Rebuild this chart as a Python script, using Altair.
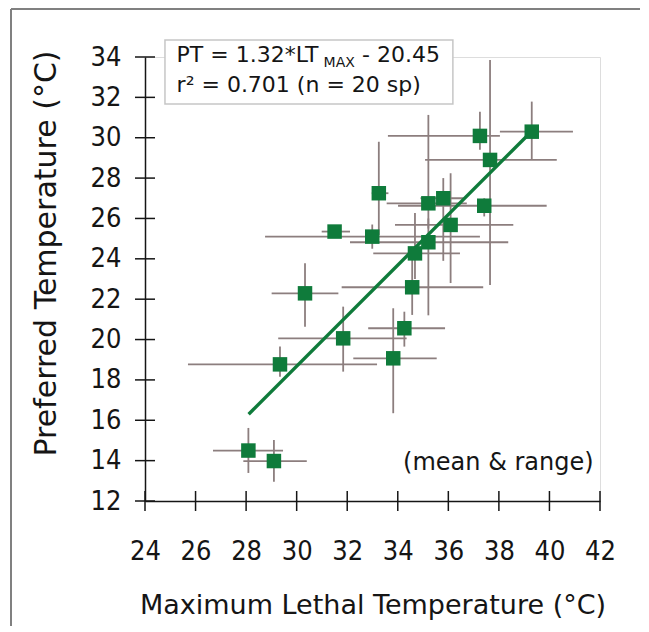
import altair as alt
import pandas as pd

# ---- data ----
lt_max = [28.09, 29.10, 29.34, 31.84, 30.33, 31.50, 32.99, 33.82, 34.26, 34.57,
          34.68, 35.21, 36.09, 35.21, 35.80, 37.42, 37.25, 37.65, 39.30, 33.25]
pt = [14.50, 13.98, 18.77, 20.06, 22.29, 25.35, 25.10, 19.07, 20.56, 22.59,
      24.27, 24.82, 25.68, 26.75, 27.00, 26.63, 30.09, 28.90, 30.30, 27.25]
lt_lo = [26.69, 27.89, 25.70, 29.27, 29.01, 30.99, 28.75, 32.24, 32.83, 31.78,
         33.03, 32.11, 33.89, 33.56, 34.90, 34.01, 33.61, 35.08, 38.04, 32.97]
lt_hi = [29.46, 30.40, 33.18, 34.35, 31.65, 32.11, 37.25, 35.54, 35.87, 37.38,
         36.46, 38.37, 38.57, 36.73, 36.60, 39.89, 38.04, 40.29, 40.93, 33.63]
pt_lo = [13.39, 12.96, 18.16, 18.41, 20.64, 25.10, 24.50, 16.35, 19.65, 21.22,
         23.00, 21.20, 22.80, 25.50, 23.90, 26.10, 29.40, 22.70, 28.90, 25.18]
pt_hi = [15.62, 15.02, 19.65, 21.63, 23.78, 25.60, 25.70, 21.55, 21.38, 24.11,
         26.27, 26.00, 28.24, 31.13, 28.00, 27.00, 31.29, 33.85, 31.79, 29.80]

fit_x = [28.1, 39.2]
fit_y = [16.3, 30.2]

x_ticks = [24, 26, 28, 30, 32, 34, 36, 38, 40, 42]
y_ticks = [12, 14, 16, 18, 20, 22, 24, 26, 28, 30, 32, 34]

FONT = "DejaVu Sans"
LFONT = "'DejaVu Sans Condensed', 'Liberation Sans', sans-serif"
GREEN = "#0f7b3b"
BAR = "#8c7e7e"
INK = "#151515"

df = pd.DataFrame({"lt": lt_max, "pt": pt, "lt_lo": lt_lo, "lt_hi": lt_hi,
                   "pt_lo": pt_lo, "pt_hi": pt_hi})
fit = pd.DataFrame({"lt": fit_x, "pt": fit_y})
xt = pd.DataFrame({"v": x_ticks})
yt = pd.DataFrame({"v": y_ticks})
one = pd.DataFrame({"k": [0]})

xs = alt.Scale(domain=[24, 42], nice=False, zero=False)
ys = alt.Scale(domain=[12, 34], nice=False, zero=False)

XT = "Maximum Lethal Temperature (°C)"
YT = "Preferred Temperature (°C)"

xaxis = alt.Axis(values=x_ticks, ticks=False, tickSize=0, grid=False,
                 domainColor=INK, domainWidth=1.5,
                 labelFont=LFONT, labelFontSize=27, labelColor=INK,
                 labelPadding=50, labelBaseline="middle", labelFlush=False,
                 labelOverlap=False,
                 title=XT, titleFont=FONT,
                 titleFontSize=27, titleFontWeight="normal", titleColor=INK,
                 titleX=227.5, titleY=112, titleBaseline="alphabetic")
yaxis = alt.Axis(values=y_ticks, ticks=False, tickSize=0, grid=False,
                 domainColor=INK, domainWidth=1.5,
                 labelFont=LFONT, labelFontSize=27, labelColor=INK,
                 labelPadding=24, labelFlush=False, labelOverlap=False,
                 title=YT, titleFont=FONT,
                 titleFontSize=30, titleFontWeight="normal", titleColor=INK,
                 titleX=-90, titleY=196, titleBaseline="alphabetic")


def X(field=None, datum=None):
    if datum is not None:
        return alt.X(datum=datum, scale=xs, axis=xaxis, title=XT)
    return alt.X(field, type="quantitative", scale=xs, axis=xaxis, title=XT)


def Y(field=None, datum=None):
    if datum is not None:
        return alt.Y(datum=datum, scale=ys, axis=yaxis, title=YT)
    return alt.Y(field, type="quantitative", scale=ys, axis=yaxis, title=YT)


hbars = alt.Chart(df).mark_rule(color=BAR, strokeWidth=1.8).encode(
    x=X("lt_lo"), x2="lt_hi:Q", y=Y("pt"))
vbars = alt.Chart(df).mark_rule(color=BAR, strokeWidth=1.8).encode(
    x=X("lt"), y=Y("pt_lo"), y2="pt_hi:Q")
line = alt.Chart(fit).mark_line(color=GREEN, strokeWidth=3.4).encode(
    x=X("lt"), y=Y("pt"))
pts = alt.Chart(df).mark_square(color=GREEN, opacity=1, size=210).encode(
    x=X("lt"), y=Y("pt"))

xtick_marks = alt.Chart(xt).mark_tick(orient="vertical", size=20, thickness=1.5,
                                      color=INK, opacity=1).encode(
    x=X("v"), y=Y(datum=12))
ytick_marks = alt.Chart(yt).mark_tick(orient="horizontal", size=20, thickness=1.5,
                                      color=INK, opacity=1).encode(
    y=Y("v"), x=X(datum=24))

box = alt.Chart(one).mark_rect(fill="white", stroke="#c6c6c6", strokeWidth=1.5).encode(
    x=X(datum=24.79), x2=alt.X2(datum=36.18),
    y=Y(datum=34.84), y2=alt.Y2(datum=31.67))


def label(text, xv, yv, size, dx=0):
    return alt.Chart(one).mark_text(text=text, font=FONT, fontSize=size, color=INK,
                                    align="left", baseline="alphabetic", dx=dx).encode(
        x=X(datum=xv), y=Y(datum=yv))


eq1 = label("PT = 1.32*LT", 25.25, 33.75, 22)
eq_sub = label("MAX", 25.25, 33.51, 14, dx=147)
eq2 = label("- 20.45", 25.25, 33.75, 22, dx=185.5)
r2 = label("r² = 0.701 (n = 20 sp)", 25.25, 32.27, 22)
note = label("(mean & range)", 34.21, 13.54, 24)

frame_left = alt.Chart(one).mark_rule(color="#808080", strokeWidth=2).encode(
    x=alt.value(-134), y=alt.value(-48), y2=alt.value(700))
frame_top = alt.Chart(one).mark_rule(color="#808080", strokeWidth=2).encode(
    x=alt.value(-134), x2=alt.value(520), y=alt.value(-48))

chart = alt.layer(
    hbars, vbars, line, pts, xtick_marks, ytick_marks,
    box, eq1, eq_sub, eq2, r2, note, frame_left, frame_top,
).properties(
    width=455, height=444,
    autosize=alt.AutoSizeParams(type="none"),
    padding={"left": 137, "top": 49, "right": 40, "bottom": 125},
).configure_view(stroke=None).configure(background="white")

chart.save("out.html", embed_options={"renderer": "svg", "actions": False})
